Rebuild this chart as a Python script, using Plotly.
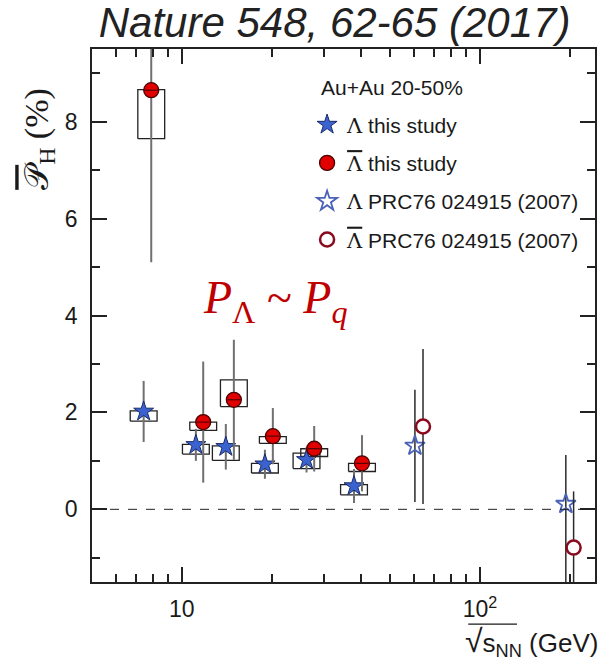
import numpy as np
import plotly.graph_objects as go

# Global hyperon polarization in Au+Au 20-50% vs collision energy
# Lambda, this study
lam_sqrts = [7.45, 11.15, 14.05, 19.0, 26.2, 37.8]
lam_pol = [2.02, 1.33, 1.29, 0.93, 1.02, 0.48]
lam_stat = [0.63, 0.33, 0.47, 0.30, 0.26, 0.35]
lam_sys_lo = [1.82, 1.14, 1.01, 0.75, 0.84, 0.30]
lam_sys_hi = [2.03, 1.34, 1.31, 0.95, 1.16, 0.51]

# anti-Lambda, this study
alam_sqrts = [7.9, 11.8, 14.95, 20.2, 27.8, 40.2]
alam_pol = [8.65, 1.80, 2.26, 1.51, 1.25, 0.95]
alam_stat = [3.55, 1.25, 1.24, 0.58, 0.47, 0.58]
alam_sys_lo = [7.65, 1.63, 2.12, 1.36, 1.09, 0.78]
alam_sys_hi = [8.66, 1.80, 2.67, 1.50, 1.25, 0.95]

# PRC76 024915 (2007)
prc_lam_sqrts = [60.5, 194.0]
prc_lam_pol = [1.31, 0.11]
prc_lam_err_up = [1.16, 1.01]
prc_lam_err_dn = [1.16, 1.70]

prc_alam_sqrts = [64.4, 206.0]
prc_alam_pol = [1.71, -0.79]
prc_alam_err = [1.60, 1.16]

x_tick_vals = [10, 100]
x_tick_text = ["10", "10<sup>2</sup>"]
x_minor_vals = [5, 6, 7, 8, 9, 20, 30, 40, 50, 60, 70, 80, 90, 200]
y_tick_vals = [0, 2, 4, 6, 8]
y_minor_vals = [-1, 1, 3, 5, 7, 9]

SANS = "Liberation Sans, Arial, sans-serif"
SERIF = "Liberation Serif, Times New Roman, serif"

LAM = "<span style='font-family:DejaVu Serif'>Λ</span>"
ALAM = "<span style='font-family:DejaVu Serif;text-decoration:overline'>Λ</span>"


def sys_boxes(xs, lo, hi, half_dec=0.045):
    bx, by = [], []
    for x, a, b in zip(xs, lo, hi):
        xl, xr = x * 10 ** (-half_dec), x * 10 ** half_dec
        bx += [xl, xr, xr, xl, xl, None]
        by += [a, a, b, b, a, None]
    return bx, by


def center_bars(xs, ys, half_dec=0.022):
    bx, by = [], []
    for x, y in zip(xs, ys):
        bx += [x * 10 ** (-half_dec), x * 10 ** half_dec, None]
        by += [y, y, None]
    return bx, by


fig = go.Figure()

# systematic uncertainty boxes
for xs, lo, hi in [(lam_sqrts, lam_sys_lo, lam_sys_hi), (alam_sqrts, alam_sys_lo, alam_sys_hi)]:
    bx, by = sys_boxes(xs, lo, hi)
    fig.add_trace(go.Scatter(x=bx, y=by, mode="lines", line=dict(color="#222222", width=1.3),
                             showlegend=False, hoverinfo="skip"))

err_gray = "#707070"
err_dark = "#2a2a2a"

fig.add_trace(go.Scatter(
    x=lam_sqrts, y=lam_pol, mode="markers", name=LAM + " this study",
    legendgroup="a",
    marker=dict(symbol="star", size=15, color="#3b63d0", line=dict(color="#1a2a6a", width=1)),
    error_y=dict(type="data", array=lam_stat, color=err_gray, thickness=2, width=0),
))
fig.add_trace(go.Scatter(
    x=alam_sqrts, y=alam_pol, mode="markers", name=ALAM + " this study",
    legendgroup="b",
    marker=dict(symbol="circle", size=15, color="#e00000", line=dict(color="#4a0000", width=1.3)),
    error_y=dict(type="data", array=alam_stat, color=err_gray, thickness=2, width=0),
))
fig.add_trace(go.Scatter(
    x=prc_lam_sqrts, y=prc_lam_pol, mode="markers",
    name=LAM + " PRC76 024915 (2007)",
    legendgroup="c",
    marker=dict(symbol="star-open", size=15, color="#4a62b8", line=dict(width=1.8)),
    error_y=dict(type="data", array=prc_lam_err_up, arrayminus=prc_lam_err_dn, symmetric=False,
                 color=err_dark, thickness=1.5, width=0),
))
fig.add_trace(go.Scatter(
    x=prc_alam_sqrts, y=prc_alam_pol, mode="markers",
    name=ALAM + " PRC76 024915 (2007)",
    legendgroup="d",
    marker=dict(symbol="circle", size=14, color="white", line=dict(color="#8a0a1e", width=2.5)),
    error_y=dict(type="data", array=prc_alam_err, color=err_dark, thickness=1.5, width=0),
))

# short horizontal stroke through the filled circles
cx, cy = center_bars(alam_sqrts, alam_pol)
fig.add_trace(go.Scatter(x=cx, y=cy, mode="lines", line=dict(color="#3a0000", width=1),
                         showlegend=False, hoverinfo="skip"))

# zero line
fig.add_shape(type="line", xref="paper", x0=0, x1=1, yref="y", y0=0, y1=0,
              line=dict(color="#222222", width=1, dash="dash"))

axis_common = dict(showline=True, linecolor="#222222", linewidth=1.5, mirror="allticks",
                   ticks="inside", tickcolor="#222222", tickwidth=1.5, ticklen=15,
                   showgrid=False, zeroline=False,
                   tickfont=dict(family=SANS, size=23, color="#1a1a1a"))

fig.update_xaxes(type="log", range=[np.log10(5), np.log10(243)],
                 tickvals=x_tick_vals, ticktext=x_tick_text, ticklabelstandoff=6,
                 minor=dict(tickvals=x_minor_vals, ticks="inside", ticklen=8, tickwidth=1.5,
                            tickcolor="#222222"),
                 **axis_common)
fig.update_yaxes(range=[-1.5, 9.5], tickvals=y_tick_vals, ticklabelstandoff=8,
                 minor=dict(tickvals=y_minor_vals, ticks="inside", ticklen=8, tickwidth=1.5,
                            tickcolor="#222222"),
                 **axis_common)

fig.add_annotation(xref="paper", yref="paper", x=-0.15, y=0.93, textangle=-90,
                   text="<span style='text-decoration:overline'>𝒫</span><sub>H</sub> (%)",
                   showarrow=False,
                   font=dict(family=SERIF, size=34, color="#1a1a1a"))

fig.add_annotation(xref="paper", yref="paper", x=1.01, y=-0.113, xanchor="right", yanchor="middle",
                   text="<span style='font-size:32px'>√</span>s<sub>NN</sub> (GeV)", showarrow=False,
                   font=dict(family=SANS, size=26, color="#1a1a1a"))
fig.add_shape(type="line", xref="paper", yref="paper", x0=0.748, x1=0.845, y0=-0.079, y1=-0.079,
              line=dict(color="#1a1a1a", width=1.3))

fig.add_annotation(xref="paper", yref="paper", x=0.364, y=0.527, showarrow=False,
                   text="<i>P</i><sub>Λ</sub> ~ <i>P<sub>q</sub></i>",
                   font=dict(family=SERIF, size=46, color="#c00000"))

fig.add_annotation(xref="paper", yref="paper", x=0.452, y=0.9274, xanchor="left", yanchor="middle",
                   text="Au+Au 20-50%", showarrow=False,
                   font=dict(family=SANS, size=21, color="#1a1a1a"))

fig.update_layout(
    width=605, height=668,
    margin=dict(l=92, r=8, t=49, b=86),
    paper_bgcolor="white", plot_bgcolor="white",
    title=dict(text="<i>Nature 548, 62-65 (2017)</i>", x=0.553, xref="container", xanchor="center",
               y=0.967, yref="container", yanchor="middle",
               font=dict(family=SANS, size=42, color="#222222")),
    legend=dict(x=0.4276, y=0.896, xanchor="left", yanchor="top", traceorder="grouped",
                tracegroupgap=8, font=dict(family=SANS, size=21, color="#1a1a1a"),
                bgcolor="rgba(0,0,0,0)"),
    showlegend=True,
)

fig.write_html("out.html")
